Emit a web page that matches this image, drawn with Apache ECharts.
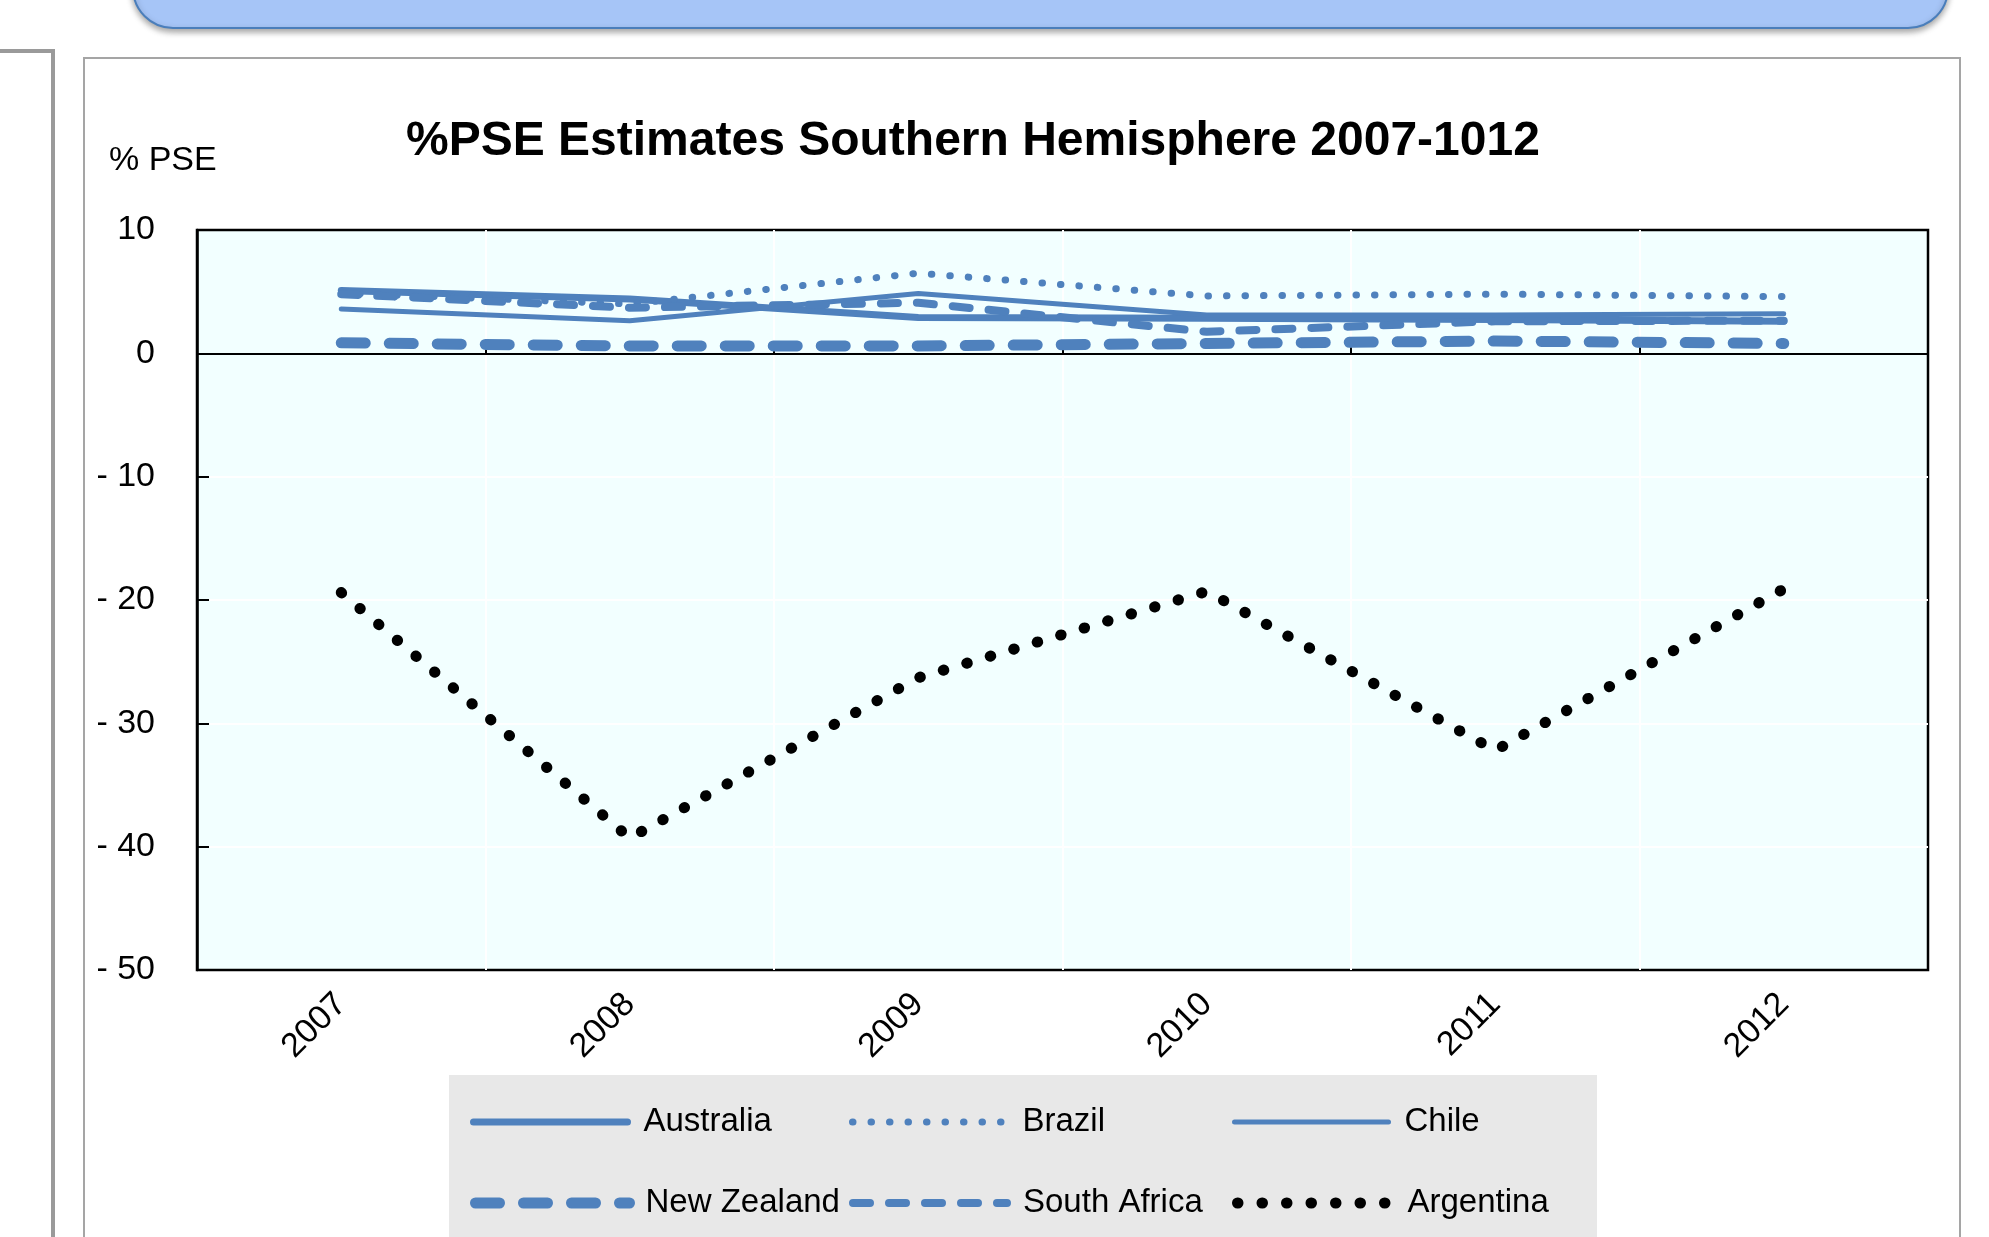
<!DOCTYPE html>
<html>
<head>
<meta charset="utf-8">
<script src="https://cdn.jsdelivr.net/npm/echarts@6/dist/echarts.min.js"></script>
<style>
  html, body { margin: 0; padding: 0; background: #ffffff; }
  #chart { width: 1989px; height: 1237px; }
</style>
</head>
<body>
<div id="chart"></div>
<script>
// data (% PSE)
const years = ['2007', '2008', '2009', '2010', '2011', '2012'];
const australia = [5.1, 4.4, 2.9, 2.85, 2.75, 2.6];
const brazil = [4.9, 4.0, 6.5, 4.65, 4.8, 4.6];
const chile = [3.6, 2.65, 4.85, 3.1, 3.1, 3.2];
const newZealand = [0.85, 0.6, 0.6, 0.8, 1.0, 0.8];
const southAfrica = [4.8, 3.7, 4.1, 1.75, 2.6, 2.65];
const argentina = [-19.4, -39.3, -26.3, -19.3, -32.2, -19.1];

const yTicks = { min: -50, max: 10, step: 10 };

const FONT = "'Liberation Sans', Arial, sans-serif";
const BLUE = '#4F81BD';

// line looks, shared by the series and their legend keys
const styles = {
  'Australia': { color: BLUE, width: 7, type: 'solid' },
  'Brazil': { color: BLUE, width: 7, type: [0.5, 18] },
  'Chile': { color: BLUE, width: 5, type: 'solid' },
  'New Zealand': { color: BLUE, width: 11, type: [24, 24] },
  'South Africa': { color: BLUE, width: 8, type: [17, 19] },
  'Argentina': { color: '#000', width: 11, type: [0.5, 24] },
};

const chart = echarts.init(document.getElementById('chart'));

// one legend box per item so the columns line up like the original
const legendSlots = [
  { name: 'Australia', left: 470, top: 1102 },
  { name: 'Brazil', left: 849, top: 1102 },
  { name: 'Chile', left: 1232, top: 1102 },
  { name: 'New Zealand', left: 470, top: 1183 },
  { name: 'South Africa', left: 849, top: 1183 },
  { name: 'Argentina', left: 1232, top: 1183 },
];

const lineSeries = (name, data) => ({
  name,
  type: 'line',
  data,
  symbol: 'none',
  xAxisIndex: 0,
  itemStyle: { color: styles[name].color },
  lineStyle: Object.assign({ cap: 'round', join: 'round' }, styles[name]),
});

chart.setOption({
  animation: false,
  backgroundColor: '#ffffff',
  title: {
    text: '%PSE Estimates Southern Hemisphere 2007-1012',
    left: 406,
    top: 118,
    padding: 0,
    textStyle: { fontFamily: FONT, fontWeight: 'bold', fontSize: 48, color: '#000' },
  },
  graphic: [
    // slide decorations
    {
      type: 'rect', z: -10,
      shape: { x: 133, y: -60, width: 1815, height: 88, r: 40 },
      style: { fill: '#A6C5F7', stroke: '#4A7EBB', lineWidth: 2, shadowBlur: 6, shadowOffsetY: 3, shadowColor: 'rgba(0,0,0,0.35)' },
    },
    {
      type: 'rect', z: -10,
      shape: { x: -10, y: 51, width: 63, height: 1300 },
      style: { fill: '#ffffff', stroke: '#9A9A9A', lineWidth: 4 },
    },
    {
      type: 'rect', z: -10,
      shape: { x: 84, y: 58, width: 1876, height: 1300 },
      style: { fill: '#ffffff', stroke: '#A5A5A5', lineWidth: 2 },
    },
    {
      type: 'rect', z: -9,
      shape: { x: 449, y: 1075, width: 1148, height: 200 },
      style: { fill: '#E8E8E8' },
    },
    {
      type: 'text', z: 10,
      x: 109, y: 161,
      style: { text: '% PSE', font: '34px ' + FONT, fill: '#000', verticalAlign: 'middle' },
    },
  ],
  legend: legendSlots.map((s) => ({
    data: [s.name],
    left: s.left,
    top: s.top,
    padding: 0,
    itemWidth: 154,
    itemHeight: 12,
    itemStyle: { color: 'rgba(0,0,0,0)', borderWidth: 0 },
    lineStyle: Object.assign({ cap: 'round' }, styles[s.name]),
    textStyle: { fontFamily: FONT, fontSize: 33, color: '#000', lineHeight: 40, padding: [0, 0, 0, 11] },
  })),
  grid: {
    left: 197,
    top: 230,
    right: 61,
    bottom: 267,
    show: true,
    backgroundColor: '#F2FFFF',
    borderColor: '#000',
    borderWidth: 2.5,
  },
  xAxis: [
    {
      // the axis line that crosses at zero
      type: 'category',
      data: years,
      boundaryGap: true,
      axisLine: { onZero: true, lineStyle: { color: '#000', width: 2 } },
      axisTick: { show: true, inside: true, length: 6, lineStyle: { color: '#000', width: 2 } },
      axisLabel: { show: false },
      splitLine: { show: true, showMinLine: false, showMaxLine: false, lineStyle: { color: '#ffffff', width: 2 } },
    },
    {
      // labels at the bottom of the plot
      type: 'category',
      data: years,
      position: 'bottom',
      boundaryGap: true,
      axisLine: { show: false, onZero: false },
      axisTick: { show: false },
      splitLine: { show: false },
      axisLabel: { rotate: 45, margin: 29, fontFamily: FONT, fontSize: 34, color: '#000' },
    },
  ],
  yAxis: {
    type: 'value',
    min: yTicks.min,
    max: yTicks.max,
    interval: yTicks.step,
    axisLine: { show: true, onZero: false, lineStyle: { color: '#000', width: 2.5 } },
    axisTick: { show: true, inside: true, length: 12, lineStyle: { color: '#000', width: 2 } },
    splitLine: { show: true, showMinLine: false, showMaxLine: false, lineStyle: { color: '#ffffff', width: 2 } },
    axisLabel: {
      margin: 42,
      fontFamily: FONT,
      fontSize: 34,
      color: '#000',
      formatter: (v) => (v < 0 ? '- ' + Math.abs(v) : String(v)),
    },
  },
  series: [
    lineSeries('Australia', australia),
    lineSeries('Brazil', brazil),
    lineSeries('Chile', chile),
    lineSeries('New Zealand', newZealand),
    lineSeries('South Africa', southAfrica),
    lineSeries('Argentina', argentina),
  ],
});
</script>
</body>
</html>
